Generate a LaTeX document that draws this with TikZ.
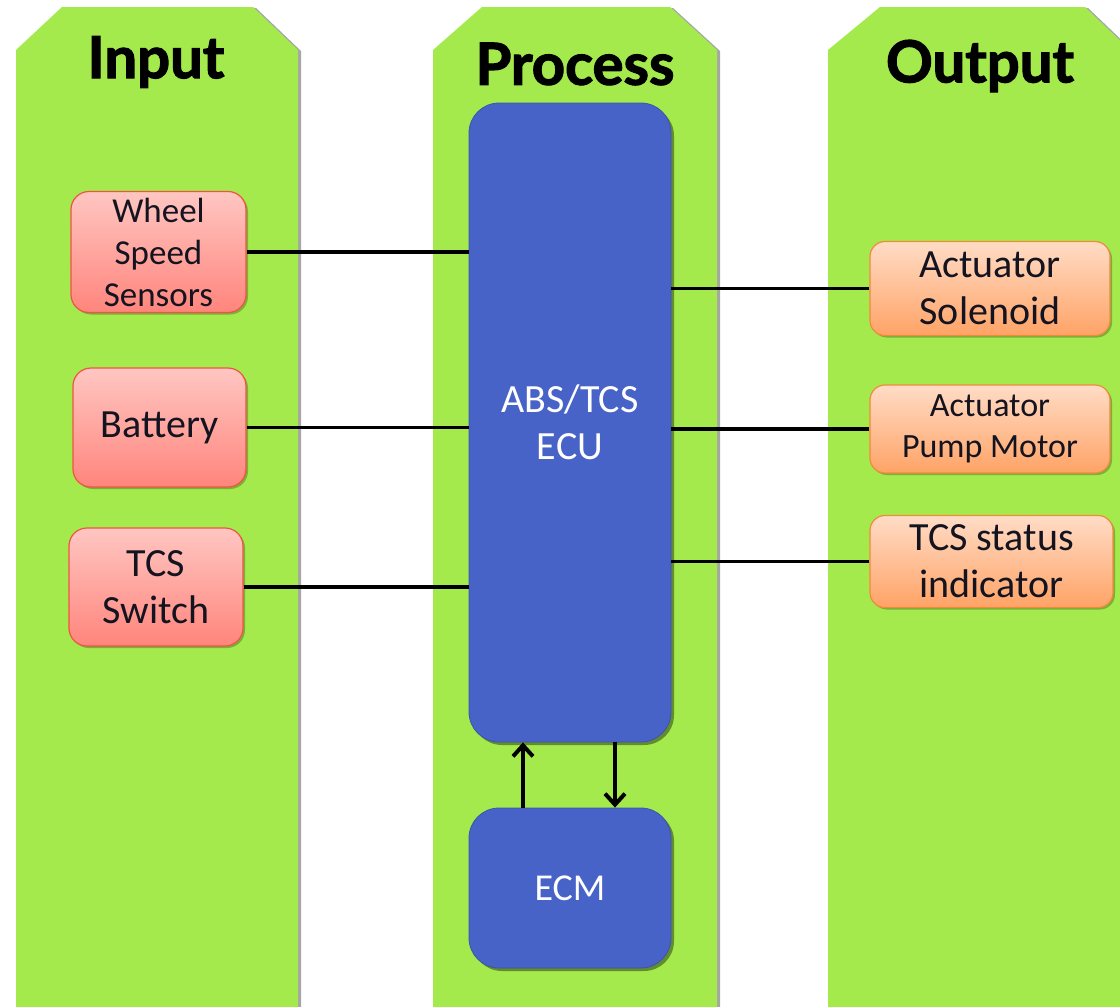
\documentclass[tikz,border=0pt]{standalone}
\usepackage{fontspec}
\setmainfont{Carlito}
\newfontfamily\hdrfont{Lato}[BoldFeatures={FakeBold=2}]
\usetikzlibrary{arrows.meta,shadows,calc}
\definecolor{colgreen}{HTML}{A4EA4C}
\definecolor{redtop}{HTML}{FFC6C2}
\definecolor{redbot}{HTML}{FF857C}
\definecolor{redline}{HTML}{EE5544}
\definecolor{ortop}{HTML}{FFDCC6}
\definecolor{orbot}{HTML}{FFA366}
\definecolor{orline}{HTML}{F28A3C}
\definecolor{ecublue}{HTML}{4763C8}
\definecolor{txtdark}{HTML}{141420}
\tikzset{
  column/.style={fill=colgreen, drop shadow={shadow xshift=3pt,shadow yshift=-1pt,opacity=0.35,fill=black}},
  hdr/.style={font=\hdrfont\bfseries\fontsize{58}{60}\selectfont, text=black},
  inbox/.style={draw=redline, line width=1.2pt, rounded corners=18pt, top color=redtop, bottom color=redbot,
     align=center, text=txtdark, inner sep=0pt, font=\fontsize{40}{47}\selectfont,
     drop shadow={shadow xshift=2pt,shadow yshift=-2pt,opacity=0.25,fill=black}},
  outbox/.style={draw=orline, line width=1.2pt, rounded corners=15pt, top color=ortop, bottom color=orbot,
     align=center, text=txtdark, inner sep=0pt, font=\fontsize{40}{47}\selectfont,
     drop shadow={shadow xshift=2pt,shadow yshift=-2pt,opacity=0.25,fill=black}},
  procbox/.style={fill=ecublue, draw=ecublue!85!black, line width=0.8pt, rounded corners=30pt, align=center, text=white,
     inner sep=0pt, font=\fontsize{40}{47}\selectfont,
     drop shadow={shadow xshift=3pt,shadow yshift=-3pt,opacity=0.4,fill=black}},
  link/.style={line width=3.5pt, black},
  flow/.style={line width=4.5pt, black, -{Straight Barb[length=11pt,width=20pt,line width=4pt]}}
}
\begin{document}
\begin{tikzpicture}[x=1pt,y=-1pt]
\useasboundingbox (0,0) rectangle (1120,1007);
\clip (0,0) rectangle (1120,1007);
\fill[white] (0,0) rectangle (1120,1007);

% columns
\path[column] (16,50) -- (62,7) -- (253,7) -- (298,50) -- (298,1030) -- (16,1030) -- cycle;
\path[column] (433,50) -- (482,7) -- (670,7) -- (717,50) -- (717,1030) -- (433,1030) -- cycle;
\path[column] (828,50) -- (880,7) -- (1085,7) -- (1128,48) -- (1128,1030) -- (828,1030) -- cycle;

% headers
\node[hdr] (hin) at (156,62) {Input};
\node[hdr] (hpr) at (575,64) {Process};
\node[hdr] (hout) at (980,66) {Output};

% input boxes
\node[inbox, minimum width=175pt, minimum height=121pt, font=\fontsize{35}{42}\selectfont] (wss) at (158.5,252) {Wheel\\Speed\\Sensors};
\node[inbox, minimum width=173pt, minimum height=119pt] (bat) at (159.5,427.5) {Battery};
\node[inbox, minimum width=174pt, minimum height=118pt] (tsw) at (156,587) {TCS\\Switch};

% output boxes
\node[outbox, minimum width=240pt, minimum height=94pt] (sol) at (990,288.5) {Actuator\\Solenoid};
\node[outbox, minimum width=240pt, minimum height=88pt, font=\fontsize{34}{41}\selectfont] (pump) at (990,429) {Actuator\\Pump Motor};
\node[outbox, minimum width=243pt, minimum height=92pt] (ind) at (991.5,561.5) {TCS status\\indicator};

% process boxes
\node[procbox, minimum width=202pt, minimum height=639pt] (ecu) at (570,422.5) {ABS/TCS\\ECU};
\node[procbox, minimum width=202pt, minimum height=160pt, font=\fontsize{38}{44}\selectfont] (ecm) at (570,888) {ECM};

% connectors
\draw[link] (wss.east) -- (wss.east -| ecu.west);
\draw[link] (bat.east) -- (bat.east -| ecu.west);
\draw[link] (tsw.east) -- (tsw.east -| ecu.west);
\draw[link] (sol.west) -- (sol.west -| ecu.east);
\draw[link] (pump.west) -- (pump.west -| ecu.east);
\draw[link] (ind.west) -- (ind.west -| ecu.east);

\coordinate (upx) at (523,0);
\coordinate (dnx) at (615,0);
\draw[flow] (ecm.north -| upx) -- (ecu.south -| upx);
\draw[flow] (ecu.south -| dnx) -- (ecm.north -| dnx);
\end{tikzpicture}
\end{document}
